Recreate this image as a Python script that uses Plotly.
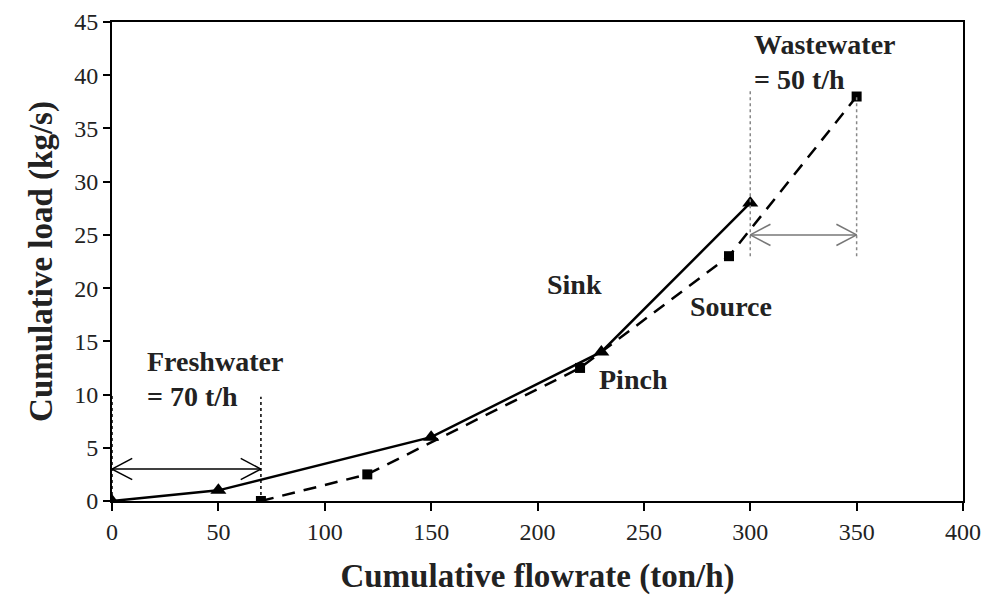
import plotly.graph_objects as go

# Data
sink_x = [0, 50, 150, 230, 300]
sink_y = [0, 1, 6, 14, 28]
source_x = [70, 120, 220, 290, 350]
source_y = [0, 2.5, 12.5, 23, 38]
x_ticks = [0, 50, 100, 150, 200, 250, 300, 350, 400]
y_ticks = [0, 5, 10, 15, 20, 25, 30, 35, 40, 45]

fresh_lo, fresh_hi, fresh_arrow_y = 0, 70, 3
waste_lo, waste_hi, waste_arrow_y = 300, 350, 25

FONT = "Liberation Serif, Times New Roman, serif"

fig = go.Figure()
fig.add_trace(go.Scatter(x=sink_x, y=sink_y, mode="lines+markers", name="Sink",
                         line=dict(color="black", width=2.5),
                         marker=dict(symbol="triangle-up", size=14, color="black")))
fig.add_trace(go.Scatter(x=source_x, y=source_y, mode="lines+markers", name="Source",
                         line=dict(color="black", width=2.5, dash="13px,9px"),
                         marker=dict(symbol="square", size=10, color="black")))

shapes = []
# dotted verticals
for xv, y0, y1 in [(fresh_lo, 0, 10), (fresh_hi, 0, 9.8), (waste_lo, 23, 38.5), (waste_hi, 23, 38)]:
    shapes.append(dict(type="line", x0=xv, x1=xv, y0=y0, y1=y1, xref="x", yref="y",
                       line=dict(color="black" if xv < 100 else "#888", width=1.5, dash="dot")))

def dbl_arrow(xa, xb, yv, color, w):
    dx, dy = 9.5, 1.0
    s = [dict(type="line", x0=xa, x1=xb, y0=yv, y1=yv)]
    s += [dict(type="line", x0=xa, x1=xa + dx, y0=yv, y1=yv + dy),
          dict(type="line", x0=xa, x1=xa + dx, y0=yv, y1=yv - dy),
          dict(type="line", x0=xb, x1=xb - dx, y0=yv, y1=yv + dy),
          dict(type="line", x0=xb, x1=xb - dx, y0=yv, y1=yv - dy)]
    for d in s:
        d.update(xref="x", yref="y", line=dict(color=color, width=w))
    return s

shapes += dbl_arrow(fresh_lo, fresh_hi, fresh_arrow_y, "black", 1.5)
shapes += dbl_arrow(waste_lo, waste_hi, waste_arrow_y, "#777", 1.5)

ann_font = dict(family=FONT, size=28, color="#222")
annotations = [
    dict(x=15.5, y=13.1, text="<b>Freshwater</b>", xanchor="left", yanchor="middle", showarrow=False, font=ann_font),
    dict(x=15.5, y=9.8, text="<b>= 70 t/h</b>", xanchor="left", yanchor="middle", showarrow=False, font=ann_font),
    dict(x=300.8, y=42.9, text="<b>Wastewater</b>", xanchor="left", yanchor="middle", showarrow=False, font=ann_font),
    dict(x=300.8, y=39.6, text="<b>= 50 t/h</b>", xanchor="left", yanchor="middle", showarrow=False, font=ann_font),
    dict(x=203.5, y=20.3, text="<b>Sink</b>", xanchor="left", yanchor="middle", showarrow=False, font=ann_font),
    dict(x=270.7, y=18.3, text="<b>Source</b>", xanchor="left", yanchor="middle", showarrow=False, font=ann_font),
    dict(x=228, y=11.4, text="<b>Pinch</b>", xanchor="left", yanchor="middle", showarrow=False, font=ann_font),
]

fig.update_layout(
    width=984, height=597,
    margin=dict(l=112, r=21, t=22, b=96, autoexpand=False),
    paper_bgcolor="white", plot_bgcolor="white",
    showlegend=False,
    shapes=shapes, annotations=annotations,
    font=dict(family=FONT, color="#222"),
)
fig.update_xaxes(range=[0, 400], tickvals=x_ticks, ticks="outside", ticklen=8, tickwidth=1.5,
                 tickcolor="black", showline=True, linecolor="black", linewidth=2, mirror=True,
                 showgrid=False, zeroline=False, tickfont=dict(family=FONT, size=24),
                 title=dict(text="<b>Cumulative flowrate (ton/h)</b>", font=dict(family=FONT, size=33), standoff=20))
fig.update_yaxes(range=[0, 45], tickvals=y_ticks, ticks="outside", ticklen=7, tickwidth=1.5,
                 tickcolor="black", showline=True, linecolor="black", linewidth=2, mirror=True,
                 showgrid=False, zeroline=False, tickfont=dict(family=FONT, size=24),
                 title=dict(text="<b>Cumulative load (kg/s)</b>", font=dict(family=FONT, size=33), standoff=12))

fig.write_html("out.html", config={"displayModeBar": False},
               post_script="document.body.style.margin='0px';")
